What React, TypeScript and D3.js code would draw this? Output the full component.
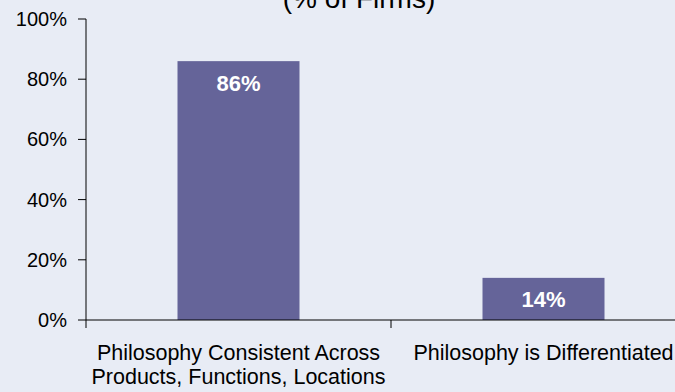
import React from "react";
import * as d3 from "d3";

const categories = [
  ["Philosophy Consistent Across", "Products, Functions, Locations"],
  ["Philosophy is Differentiated"],
];
const values = [86, 14];
const yTicks = [0, 20, 40, 60, 80, 100];
const title = "(% of Firms)";

const W = 675;
const H = 392;
const margin = { left: 86, top: 19, bottom: 72 };
const plotBottom = H - margin.bottom;

export default function App() {
  const y = d3.scaleLinear().domain([0, 100]).range([plotBottom, margin.top]);
  const x = d3
    .scaleBand<number>()
    .domain(values.map((_, i) => i))
    .range([margin.left, margin.left + 610])
    .paddingInner(0.6)
    .paddingOuter(0.3);
  const step = x.step();
  const font = "Arial, 'Liberation Sans', sans-serif";

  return (
    <svg
      width={W}
      height={H}
      style={{ position: "absolute", left: 0, top: 0, background: "#E8ECF5" }}
      fontFamily={font}
    >
      <rect width={W} height={H} fill="#E8ECF5" />
      <text x={359} y={8} textAnchor="middle" fontSize={28} fill="#000">
        {title}
      </text>
      {values.map((v, i) => (
        <g key={i}>
          <rect
            x={x(i)}
            y={y(v)}
            width={x.bandwidth()}
            height={plotBottom - y(v)}
            fill="#656499"
          />
          <text
            x={(x(i) as number) + x.bandwidth() / 2}
            y={v > 50 ? y(v) + 30 : (y(v) + plotBottom) / 2 + 8}
            textAnchor="middle"
            fontSize={22}
            fontWeight="bold"
            fill="#fff"
          >
            {v}%
          </text>
        </g>
      ))}
      {/* y axis */}
      <line x1={margin.left} x2={margin.left} y1={margin.top} y2={plotBottom} stroke="#000" />
      {yTicks.map((t) => (
        <g key={t}>
          <line x1={margin.left - 8} x2={margin.left} y1={y(t)} y2={y(t)} stroke="#000" />
          <text x={67} y={y(t) + 7} textAnchor="end" fontSize={20} fill="#000">
            {t}%
          </text>
        </g>
      ))}
      {/* x axis */}
      <line x1={margin.left} x2={W} y1={plotBottom} y2={plotBottom} stroke="#000" />
      {values.map((_, i) => (
        <line
          key={i}
          x1={margin.left + step * i}
          x2={margin.left + step * i}
          y1={plotBottom}
          y2={plotBottom + 8}
          stroke="#000"
        />
      ))}
      {categories.map((lines, i) => (
        <text
          key={i}
          x={(x(i) as number) + x.bandwidth() / 2}
          y={360}
          textAnchor="middle"
          fontSize={21.5}
          fill="#000"
        >
          {lines.map((l, j) => (
            <tspan key={j} x={(x(i) as number) + x.bandwidth() / 2} dy={j === 0 ? 0 : 24}>
              {l}
            </tspan>
          ))}
        </text>
      ))}
    </svg>
  );
}
